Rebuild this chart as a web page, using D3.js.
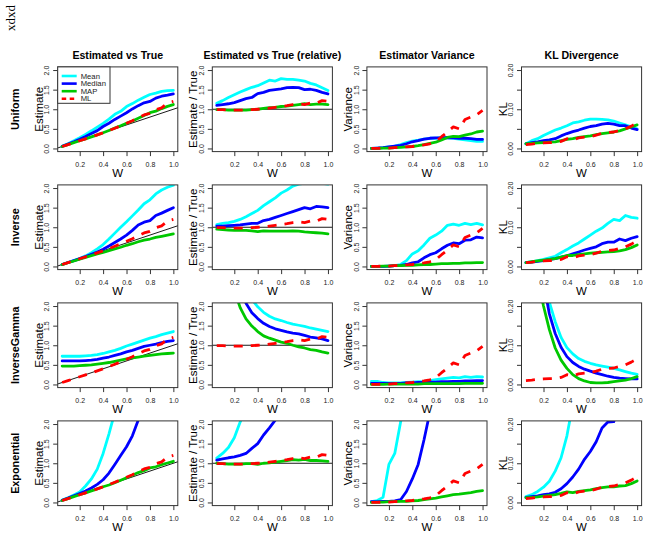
<!DOCTYPE html>
<html><head><meta charset="utf-8">
<script src="https://cdn.jsdelivr.net/npm/d3@7"></script>
<style>body{margin:0;background:#fff}svg{display:block}</style>
</head><body><svg id="chart" width="645" height="536"></svg>
<script>
// ---------- data ----------
const W = [0.05,0.10,0.15,0.20,0.25,0.30,0.35,0.40,0.45,0.50,0.55,0.60,0.65,0.70,0.75,0.80,0.85,0.90,0.95,1.00];
const rowNames = ["Uniform","Inverse","InverseGamma","Exponential"];
const colTitles = ["Estimated vs True","Estimated vs True (relative)","Estimator Variance","KL Divergence"];
const yTitles = ["Estimate","Estimate / True","Variance","KL"];
const seriesNames = ["Mean","Median","MAP","ML"];
const xTicks = [0.2,0.4,0.6,0.8,1.0];
const yTicks = [0,0.5,1,1.5,2];
const klTicks = [0,0.05,0.10,0.15,0.20];
const klTickLabels = ["0.00","","0.10","","0.20"];

// ML (prior-free) results, identical in every row
const mlEstimate = [0.05,0.099,0.147,0.196,0.245,0.294,0.347,0.40,0.455,0.515,0.578,0.642,0.709,0.784,0.855,0.896,0.986,1.035,1.159,1.20];
const mlRelative = [0.99,0.99,0.98,0.98,0.98,0.98,0.99,1.00,1.01,1.03,1.05,1.07,1.09,1.12,1.14,1.12,1.16,1.15,1.22,1.20];
const mlVariance = [0.00,0.00,0.01,0.01,0.02,0.03,0.04,0.05,0.07,0.09,0.12,0.17,0.30,0.42,0.55,0.50,0.74,0.80,0.86,0.97];
const mlKL = [0.010,0.011,0.013,0.014,0.015,0.015,0.018,0.025,0.022,0.027,0.029,0.030,0.034,0.039,0.041,0.042,0.046,0.050,0.057,0.065];

// Uniform prior
const uniEstMean = [0.058,0.122,0.195,0.274,0.36,0.45,0.546,0.64,0.75,0.87,0.946,1.068,1.144,1.232,1.305,1.376,1.411,1.458,1.473,1.48];
const uniEstMedian = [0.055,0.112,0.171,0.234,0.305,0.381,0.455,0.56,0.644,0.74,0.825,0.912,1.008,1.092,1.163,1.20,1.284,1.332,1.359,1.39];
const uniEstMAP = [0.05,0.099,0.147,0.196,0.245,0.294,0.347,0.40,0.459,0.52,0.578,0.642,0.702,0.77,0.84,0.912,0.952,1.017,1.074,1.12];
const uniRelMean = [1.15,1.22,1.30,1.37,1.44,1.50,1.56,1.60,1.67,1.74,1.72,1.78,1.76,1.76,1.74,1.72,1.66,1.62,1.55,1.48];
const uniRelMedian = [1.10,1.12,1.14,1.17,1.22,1.27,1.30,1.40,1.43,1.48,1.50,1.52,1.55,1.56,1.55,1.50,1.51,1.48,1.43,1.39];
const uniRelMAP = [0.99,0.99,0.98,0.98,0.98,0.98,0.99,1.00,1.02,1.04,1.05,1.07,1.08,1.10,1.12,1.14,1.12,1.13,1.13,1.12];
const uniVarMean = [0.00,0.01,0.02,0.04,0.06,0.10,0.15,0.19,0.21,0.24,0.26,0.26,0.28,0.27,0.26,0.24,0.22,0.20,0.18,0.18];
const uniVarMedian = [0.00,0.01,0.02,0.04,0.06,0.08,0.12,0.17,0.20,0.24,0.26,0.27,0.27,0.28,0.27,0.26,0.26,0.25,0.23,0.23];
const uniVarMAP = [0.00,0.00,0.01,0.01,0.02,0.03,0.04,0.05,0.07,0.10,0.13,0.16,0.22,0.28,0.31,0.30,0.34,0.37,0.42,0.44];
const uniKLMean = [0.012,0.020,0.025,0.033,0.040,0.047,0.052,0.058,0.065,0.068,0.072,0.075,0.075,0.074,0.073,0.070,0.065,0.060,0.055,0.050];
const uniKLMedian = [0.012,0.015,0.017,0.020,0.022,0.025,0.032,0.038,0.043,0.047,0.052,0.056,0.058,0.062,0.064,0.062,0.058,0.058,0.052,0.048];
const uniKLMAP = [0.012,0.013,0.014,0.015,0.016,0.017,0.020,0.023,0.025,0.028,0.030,0.032,0.035,0.038,0.040,0.042,0.045,0.050,0.055,0.060];

// Inverse prior
const invEstMean = [0.05,0.10,0.15,0.20,0.27,0.35,0.45,0.56,0.70,0.85,1.00,1.14,1.29,1.44,1.60,1.70,1.85,1.95,2.02,2.07];
const invEstMedian = [0.05,0.10,0.15,0.20,0.25,0.31,0.37,0.44,0.52,0.61,0.70,0.80,0.92,1.06,1.13,1.17,1.30,1.36,1.43,1.50];
const invEstMAP = [0.048,0.095,0.14,0.185,0.23,0.275,0.32,0.36,0.405,0.45,0.49,0.54,0.58,0.63,0.67,0.70,0.74,0.77,0.80,0.83];
const invRelMean = [1.07,1.10,1.12,1.15,1.20,1.27,1.35,1.43,1.55,1.65,1.75,1.87,1.95,2.05,2.10,2.12,2.15,2.15,2.12,2.10];
const invRelMedian = [1.03,1.03,1.04,1.05,1.06,1.08,1.10,1.10,1.17,1.20,1.25,1.30,1.35,1.40,1.45,1.50,1.47,1.53,1.52,1.50];
const invRelMAP = [0.95,0.94,0.93,0.92,0.92,0.92,0.91,0.89,0.91,0.90,0.90,0.90,0.90,0.91,0.90,0.88,0.87,0.86,0.85,0.83];
const invVarMean = [0.00,0.00,0.00,0.01,0.02,0.05,0.15,0.32,0.40,0.55,0.72,0.80,0.90,1.05,1.08,1.05,1.10,1.07,1.10,1.06];
const invVarMedian = [0.00,0.00,0.00,0.01,0.02,0.03,0.05,0.09,0.12,0.22,0.30,0.35,0.45,0.54,0.60,0.58,0.67,0.68,0.75,0.73];
const invVarMAP = [0.00,0.00,0.01,0.01,0.02,0.02,0.03,0.03,0.04,0.05,0.05,0.06,0.07,0.07,0.08,0.08,0.09,0.09,0.10,0.10];
const invKLMean = [0.010,0.012,0.015,0.018,0.022,0.026,0.035,0.043,0.052,0.060,0.070,0.080,0.090,0.098,0.110,0.120,0.117,0.130,0.125,0.123];
const invKLMedian = [0.010,0.011,0.013,0.015,0.018,0.020,0.024,0.027,0.032,0.037,0.042,0.046,0.050,0.058,0.062,0.062,0.070,0.066,0.072,0.076];
const invKLMAP = [0.010,0.012,0.014,0.016,0.018,0.020,0.024,0.028,0.028,0.030,0.032,0.034,0.035,0.036,0.037,0.038,0.040,0.043,0.048,0.055];

// InverseGamma prior
const igEstMean = [0.72,0.72,0.72,0.72,0.73,0.74,0.76,0.79,0.83,0.87,0.92,0.98,1.03,1.08,1.13,1.18,1.22,1.27,1.31,1.35];
const igEstMedian = [0.60,0.60,0.60,0.60,0.61,0.62,0.64,0.67,0.70,0.74,0.78,0.83,0.87,0.92,0.97,1.00,1.03,1.07,1.10,1.12];
const igEstMAP = [0.47,0.47,0.47,0.48,0.49,0.50,0.52,0.54,0.56,0.59,0.62,0.65,0.68,0.70,0.72,0.74,0.76,0.78,0.79,0.80];
const igRelMean = [14.4,7.2,4.8,3.6,2.92,2.47,2.17,1.98,1.84,1.74,1.67,1.63,1.58,1.54,1.51,1.48,1.44,1.41,1.38,1.35];
const igRelMedian = [12.0,6.0,4.0,3.0,2.44,2.07,1.83,1.68,1.56,1.48,1.42,1.38,1.34,1.31,1.29,1.25,1.21,1.19,1.16,1.12];
const igRelMAP = [9.4,4.7,3.13,2.4,1.96,1.67,1.49,1.35,1.24,1.18,1.13,1.08,1.05,1.00,0.96,0.93,0.89,0.87,0.83,0.80];
const igVarMean = [0.08,0.08,0.05,0.04,0.04,0.04,0.05,0.06,0.07,0.08,0.10,0.12,0.14,0.16,0.18,0.17,0.20,0.18,0.20,0.19];
const igVarMedian = [0.03,0.03,0.03,0.03,0.03,0.03,0.04,0.04,0.05,0.05,0.06,0.06,0.07,0.07,0.08,0.08,0.09,0.09,0.10,0.10];
const igVarMAP = [0.00,0.00,0.00,0.01,0.01,0.01,0.01,0.01,0.01,0.02,0.02,0.02,0.02,0.02,0.02,0.02,0.03,0.03,0.03,0.03];
const igKLMean = [0.90,0.60,0.40,0.30,0.21,0.16,0.12,0.094,0.078,0.066,0.059,0.054,0.050,0.047,0.044,0.041,0.037,0.033,0.029,0.026];
const igKLMedian = [0.80,0.50,0.35,0.26,0.18,0.13,0.095,0.071,0.056,0.046,0.039,0.034,0.029,0.025,0.021,0.018,0.016,0.015,0.014,0.014];
const igKLMAP = [0.70,0.40,0.27,0.20,0.14,0.093,0.062,0.041,0.025,0.015,0.009,0.005,0.004,0.004,0.005,0.007,0.009,0.011,0.015,0.020];

// Exponential prior
const expEstMean = [0.06,0.12,0.19,0.27,0.42,0.60,0.85,1.25,1.75,2.3,2.9,3.5,4.0,4.5,5.0,5.5,6.0,6.5,7.0,7.5];
const expEstMedian = [0.055,0.11,0.17,0.23,0.29,0.37,0.46,0.58,0.75,0.97,1.20,1.42,1.70,2.10,2.6,3.1,3.6,4.0,4.5,5.0];
const expEstMAP = [0.05,0.099,0.147,0.196,0.245,0.297,0.347,0.40,0.446,0.505,0.567,0.63,0.696,0.763,0.81,0.88,0.91,0.963,1.007,1.05];
const expRelMean = [1.13,1.25,1.40,1.65,2.05,2.4,2.7,3.1,3.6,4.2,4.8,5.4,6.0,6.5,7.0,7.5,8.0,8.5,9.0,9.5];
const expRelMedian = [1.08,1.11,1.14,1.16,1.20,1.25,1.38,1.50,1.72,1.90,2.10,2.4,2.7,3.0,3.4,3.8,4.2,4.6,5.0,5.4];
const expRelMAP = [1.00,0.99,0.98,0.98,0.98,0.99,0.99,0.97,1.00,1.01,1.03,1.05,1.07,1.09,1.08,1.10,1.07,1.07,1.06,1.05];
const expVarMean = [0.02,0.05,0.13,0.97,1.25,2.05,2.8,3.5,4.0,4.5,5.0,5.5,6.0,6.5,7.0,7.5,8.0,8.5,9.0,9.5];
const expVarMedian = [0.02,0.02,0.03,0.03,0.04,0.07,0.28,0.60,0.97,1.60,2.3,3.0,3.5,4.0,4.5,5.0,5.5,6.0,6.5,7.0];
const expVarMAP = [0.00,0.01,0.01,0.02,0.02,0.03,0.03,0.04,0.05,0.07,0.09,0.11,0.14,0.17,0.20,0.21,0.23,0.25,0.28,0.30];
const expKLMean = [0.015,0.020,0.028,0.039,0.054,0.080,0.114,0.17,0.25,0.30,0.35,0.40,0.45,0.50,0.55,0.60,0.65,0.70,0.75,0.80];
const expKLMedian = [0.013,0.015,0.017,0.020,0.022,0.026,0.035,0.048,0.065,0.085,0.110,0.130,0.155,0.190,0.205,0.206,0.25,0.30,0.35,0.40];
const expKLMAP = [0.012,0.013,0.014,0.016,0.018,0.020,0.023,0.027,0.025,0.028,0.030,0.032,0.035,0.038,0.040,0.040,0.042,0.043,0.048,0.055];

// table for drawing (built from the arrays above)
const grid = [
  [[uniEstMean,uniEstMedian,uniEstMAP,mlEstimate],[uniRelMean,uniRelMedian,uniRelMAP,mlRelative],[uniVarMean,uniVarMedian,uniVarMAP,mlVariance],[uniKLMean,uniKLMedian,uniKLMAP,mlKL]],
  [[invEstMean,invEstMedian,invEstMAP,mlEstimate],[invRelMean,invRelMedian,invRelMAP,mlRelative],[invVarMean,invVarMedian,invVarMAP,mlVariance],[invKLMean,invKLMedian,invKLMAP,mlKL]],
  [[igEstMean,igEstMedian,igEstMAP,mlEstimate],[igRelMean,igRelMedian,igRelMAP,mlRelative],[igVarMean,igVarMedian,igVarMAP,mlVariance],[igKLMean,igKLMedian,igKLMAP,mlKL]],
  [[expEstMean,expEstMedian,expEstMAP,mlEstimate],[expRelMean,expRelMedian,expRelMAP,mlRelative],[expVarMean,expVarMedian,expVarMAP,mlVariance],[expKLMean,expKLMedian,expKLMAP,mlKL]]
];

// ---------- layout / style ----------
const colors = ["#00FFFF","#0000FF","#00C800","#FF0000"];
const FONT = "'Liberation Sans', Arial, Helvetica, sans-serif";
const box0x = 57.7, box0y = 66.9, boxW = 120.1, boxH = 84.7, dx = 154.6, dy = 118;

const svg = d3.select("#chart");
svg.append("rect").attr("width",645).attr("height",536).attr("fill","#fff");

svg.append("text")
  .attr("transform","translate(15,18) rotate(-90)")
  .attr("text-anchor","middle")
  .attr("font-family","'Liberation Serif', 'Times New Roman', serif")
  .attr("font-size",13).attr("fill","#000").text("xdxd");

const lineGen = (x,y) => d3.line().x((d,i)=>x(W[i])).y(d=>y(d));

for (let r = 0; r < 4; r++) {
  for (let c = 0; c < 4; c++) {
    const L = box0x + c*dx, T = box0y + r*dy;
    const x = d3.scaleLinear().domain([0.012,1.038]).range([L, L+boxW]);
    const y = c === 3
      ? d3.scaleLinear().domain([-0.008,0.208]).range([T+boxH, T])
      : d3.scaleLinear().domain([-0.08,2.08]).range([T+boxH, T]);
    const g = svg.append("g");
    const clipId = `clip${r}${c}`;
    g.append("clipPath").attr("id",clipId).append("rect")
      .attr("x",L).attr("y",T).attr("width",boxW).attr("height",boxH);
    const plot = g.append("g").attr("clip-path",`url(#${clipId})`);

    // reference lines
    if (c === 0) {
      plot.append("path").attr("d", d3.line().x(d=>x(d)).y(d=>y(d))([0,1.1]))
        .attr("stroke","#000").attr("stroke-width",0.9).attr("fill","none");
    } else if (c === 1) {
      plot.append("path").attr("d", d3.line().x(d=>x(d)).y(()=>y(1))([0,1.1]))
        .attr("stroke","#000").attr("stroke-width",0.9).attr("fill","none");
    }
    grid[r][c].forEach((vals, s) => {
      plot.append("path").attr("d", lineGen(x,y)(vals))
        .attr("fill","none").attr("stroke",colors[s])
        .attr("stroke-width",2.8)
        .attr("stroke-linejoin","round")
        .attr("stroke-linecap", s===3 ? "butt" : "round")
        .attr("stroke-dasharray", s===3 ? "9,8" : null);
    });

    // box
    g.append("rect").attr("x",L).attr("y",T).attr("width",boxW).attr("height",boxH)
      .attr("fill","none").attr("stroke","#333").attr("stroke-width",1);

    // x axis
    const xa = g.append("g").attr("transform",`translate(0,${T+boxH})`)
      .call(d3.axisBottom(x).tickValues(xTicks).tickSize(4.5).tickFormat(d3.format(".1f")));
    xa.select(".domain").remove();
    xa.selectAll("line").attr("stroke","#333");
    xa.selectAll("text").attr("font-family",FONT).attr("font-size",7).attr("fill","#222").attr("dy",null).attr("y",15);

    // y axis
    const ticks = c === 3 ? klTicks : yTicks;
    const ya = g.append("g").attr("transform",`translate(${L},0)`)
      .call(d3.axisLeft(y).tickValues(ticks).tickSize(4.5)
        .tickFormat((d,i)=> c===3 ? klTickLabels[i] : d3.format(".1f")(d)));
    ya.select(".domain").remove();
    ya.selectAll("line").attr("stroke","#333");
    ya.selectAll("text").attr("font-family",FONT).attr("font-size",7).attr("fill","#222")
      .attr("x",null).attr("dy",null)
      .attr("text-anchor","middle")
      .attr("transform","translate(-8.4,0) rotate(-90)");

    // axis titles
    g.append("text").attr("x",L+boxW/2).attr("y",T+boxH+25.5)
      .attr("text-anchor","middle").attr("font-family",FONT).attr("font-size",11.5).text("W");
    g.append("text").attr("transform",`translate(${L-15},${T+boxH/2}) rotate(-90)`)
      .attr("text-anchor","middle").attr("font-family",FONT).attr("font-size",11.5).text(yTitles[c]);

    if (r === 0) {
      svg.append("text").attr("x",L+boxW/2).attr("y",T-8)
        .attr("text-anchor","middle").attr("font-family",FONT).attr("font-weight","bold")
        .attr("font-size",10.6).text(colTitles[c]);
    }
    if (c === 0) {
      svg.append("text").attr("transform",`translate(18.5,${T+boxH/2}) rotate(-90)`)
        .attr("text-anchor","middle").attr("font-family",FONT).attr("font-weight","bold")
        .attr("font-size",10.8).text(rowNames[r]);
    }
    if (r === 0 && c === 0) {
      const lg = svg.append("g");
      lg.append("rect").attr("x",L).attr("y",T).attr("width",52.3).attr("height",36.4)
        .attr("fill","#fff").attr("stroke","#333").attr("stroke-width",1);
      seriesNames.forEach((name,s) => {
        const yy = T + 9.1 + s*7.6;
        lg.append("line").attr("x1",L+4).attr("x2",L+19).attr("y1",yy).attr("y2",yy)
          .attr("stroke",colors[s]).attr("stroke-width",2.6)
          .attr("stroke-dasharray", s===3 ? "4.5,3.5" : null);
        lg.append("text").attr("x",L+23).attr("y",yy+2.6).attr("font-family",FONT)
          .attr("font-size",7.7).attr("fill","#222").text(name);
      });
    }
  }
}
</script></body></html>
